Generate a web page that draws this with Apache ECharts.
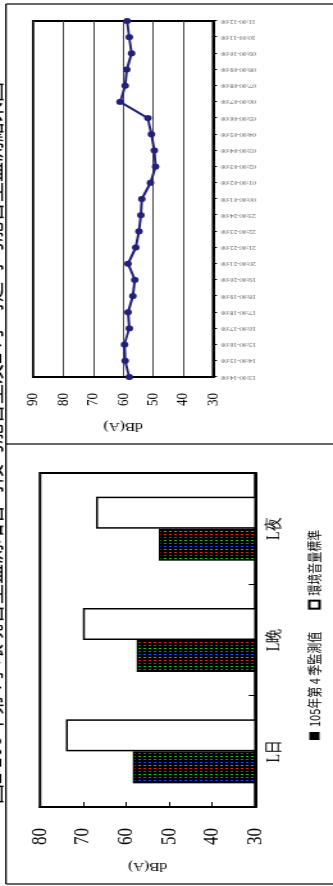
<!DOCTYPE html>
<html>
<head>
<meta charset="utf-8">
<script src="https://cdn.jsdelivr.net/npm/echarts@6/dist/echarts.min.js"></script>
<style>
html,body{margin:0;padding:0;background:#fff;overflow:hidden;width:333px;height:886px;}
#wrap{position:absolute;left:0;top:0;width:886px;height:260px;transform-origin:0 0;transform:translate(0px,886px) rotate(-90deg) scale(1,1.2808);}
</style>
</head>
<body>
<div id="wrap"></div>
<script>
// ---- data ----
var pageTitle = '圖2 105年第4季環境音量監測站各時段均能音量及24小時逐時均能音量監測結果圖';
var barCategories = ['L日', 'L晚', 'L夜'];
var measuredName = '105年第 4 季監測值';
var standardName = '環境音量標準';
var measuredValues = [58.4, 57.5, 52.4];
var standardValues = [74, 70, 67];
var barTicks = [30, 40, 50, 60, 70, 80];

var hourCategories = ['13:00-14:00','14:00-15:00','15:00-16:00','16:00-17:00','17:00-18:00','18:00-19:00',
  '19:00-20:00','20:00-21:00','21:00-22:00','22:00-23:00','23:00-24:00','00:00-01:00','01:00-02:00',
  '02:00-03:00','03:00-04:00','04:00-05:00','05:00-06:00','06:00-07:00','07:00-08:00','08:00-09:00',
  '09:00-10:00','10:00-11:00','11:00-12:00'];
var hourValues = [58.0, 59.3, 59.6, 58.0, 58.4, 56.8, 56.1, 58.4, 55.8, 54.7, 54.1, 53.8, 50.9,
  49.2, 49.6, 50.6, 51.8, 61.0, 59.3, 58.8, 57.2, 58.0, 58.7];
var lineTicks = [30, 40, 50, 60, 70, 80, 90];
var unitName = 'dB(A)';

// ---- pattern for measured bars ----
var pat = document.createElement('canvas');
pat.width = 9; pat.height = 4;
var pc = pat.getContext('2d');
pc.fillStyle = '#000'; pc.fillRect(0, 0, 9, 4);
pc.fillStyle = '#e02020'; pc.fillRect(0, 0, 1, 2);
pc.fillStyle = '#20c020'; pc.fillRect(3, 0, 1, 2);
pc.fillStyle = '#2040ff'; pc.fillRect(6, 0, 1, 2);

var serif = '"Liberation Serif", "Times New Roman", serif';
var cjk = '"Noto Sans CJK TC", "Noto Sans CJK SC", sans-serif';

var chart = echarts.init(document.getElementById('wrap'), null, {renderer: 'canvas', width: 886, height: 260});
chart.setOption({
  animation: false,
  backgroundColor: '#fff',
  graphic: [
    {type: 'line', shape: {x1: 2, y1: 4.7, x2: 882, y2: 4.7}, style: {stroke: '#000', lineWidth: 1.2}},
    {type: 'line', shape: {x1: 2, y1: 4.7, x2: 2, y2: 270}, style: {stroke: '#000', lineWidth: 1.2}},
    {type: 'line', shape: {x1: 442, y1: 4.7, x2: 442, y2: 270}, style: {stroke: '#000', lineWidth: 1.2}},
    {type: 'line', shape: {x1: 882, y1: 4.7, x2: 882, y2: 270}, style: {stroke: '#000', lineWidth: 1.2}},
    {type: 'text', x: 443, y: 3.5, style: {text: pageTitle, font: '20px ' + cjk, fill: '#000', align: 'center', verticalAlign: 'bottom'}}
  ],
  legend: {
    left: 141, top: 235, orient: 'horizontal',
    itemWidth: 8, itemHeight: 8, itemGap: 22,
    icon: 'rect',
    textStyle: {fontSize: 11, fontFamily: cjk, color: '#000'},
    data: [
      {name: measuredName, itemStyle: {color: '#000', borderWidth: 0}},
      {name: standardName, itemStyle: {color: '#fff', borderColor: '#000', borderWidth: 2}}
    ]
  },
  grid: [
    {left: 79, top: 31.25, width: 334, height: 168, show: true, borderColor: '#000', borderWidth: 2, backgroundColor: 'transparent'},
    {left: 509, top: 26, width: 356, height: 140.4, show: true, borderColor: '#000', borderWidth: 2, backgroundColor: 'transparent'}
  ],
  xAxis: [
    {
      gridIndex: 0, type: 'category', data: barCategories,
      axisLine: {show: true, lineStyle: {color: '#000', width: 2}},
      axisTick: {show: true, inside: true, length: 5, lineStyle: {color: '#000', width: 1}},
      axisLabel: {fontSize: 14, margin: 8, color: '#000', fontFamily: serif}
    },
    {
      gridIndex: 1, type: 'category', data: hourCategories, boundaryGap: false,
      axisLine: {show: true, lineStyle: {color: '#000', width: 2}},
      axisTick: {show: true, inside: false, length: 3, alignWithLabel: true, lineStyle: {color: '#000', width: 1}},
      axisLabel: {fontSize: 5.6, rotate: 90, interval: 0, margin: 6, color: '#555', fontFamily: serif}
    }
  ],
  yAxis: [
    {
      gridIndex: 0, type: 'value', min: barTicks[0], max: barTicks[barTicks.length - 1], interval: 10,
      name: unitName, nameLocation: 'middle', nameRotate: 90, nameGap: 53,
      nameTextStyle: {fontSize: 12, fontFamily: serif, color: '#000'},
      axisLine: {show: true, lineStyle: {color: '#000', width: 2}},
      axisTick: {show: true, inside: true, length: 5, lineStyle: {color: '#000', width: 1}},
      axisLabel: {fontSize: 17, margin: 21, color: '#000', fontFamily: serif},
      splitLine: {show: false}
    },
    {
      gridIndex: 1, type: 'value', min: lineTicks[0], max: lineTicks[lineTicks.length - 1], interval: 10,
      name: unitName, nameLocation: 'middle', nameRotate: 90, nameGap: 43,
      nameTextStyle: {fontSize: 12, fontFamily: serif, color: '#000'},
      axisLine: {show: true, lineStyle: {color: '#000', width: 2}},
      axisTick: {show: false},
      axisLabel: {fontSize: 13, margin: 16, color: '#000', fontFamily: serif},
      splitLine: {show: true, lineStyle: {color: '#444', width: 1}}
    }
  ],
  series: [
    {
      name: measuredName, type: 'bar', xAxisIndex: 0, yAxisIndex: 0,
      data: measuredValues, barWidth: 32, barGap: '0%',
      itemStyle: {color: {image: pat, repeat: 'repeat'}, borderColor: '#000', borderWidth: 1.5}
    },
    {
      name: standardName, type: 'bar', xAxisIndex: 0, yAxisIndex: 0,
      data: standardValues, barWidth: 32, barGap: '0%',
      itemStyle: {color: '#fff', borderColor: '#000', borderWidth: 1.5}
    },
    {
      name: 'hourly', type: 'line', xAxisIndex: 1, yAxisIndex: 1,
      data: hourValues, symbol: 'circle', symbolSize: 6,
      lineStyle: {color: '#21207a', width: 2},
      itemStyle: {color: '#21207a'}
    }
  ]
});
</script>
</body>
</html>
